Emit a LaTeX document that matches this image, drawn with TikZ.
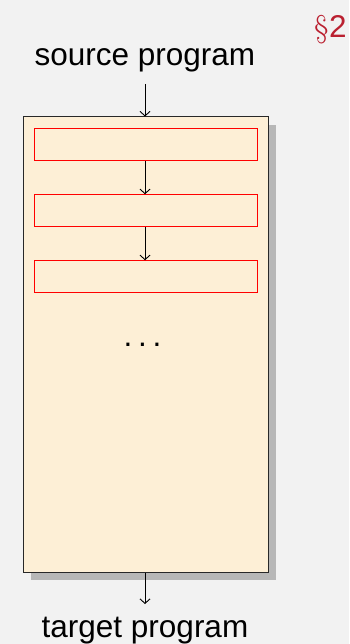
\documentclass[tikz,border=0pt]{standalone}
\usepackage{fontspec}
\newfontfamily\arialfont{Liberation Sans}
\usetikzlibrary{arrows.meta,shadows}
\definecolor{bgcol}{RGB}{242,242,242}
\definecolor{boxfill}{RGB}{253,239,214}
\definecolor{shadowcol}{RGB}{183,183,183}
\definecolor{secred}{RGB}{186,32,48}
\definecolor{framecol}{RGB}{40,40,40}
\tikzset{
  arr/.style={-{Straight Barb[length=4.5pt,width=10pt]}, line width=0.9pt, black},
  lbl/.style={font=\arialfont\fontsize{31.5}{36}\selectfont, anchor=base, inner sep=0pt},
  outerbox/.style={draw=framecol, line width=1pt, fill=boxfill, minimum width=245pt, minimum height=455pt, inner sep=0pt,
    drop shadow={shadow xshift=8pt, shadow yshift=-8pt, fill=shadowcol, opacity=1}},
  phase/.style={draw=red, line width=0.9pt, fill=boxfill, minimum width=223pt, minimum height=32pt, inner sep=0pt},
}
\begin{document}
\begin{tikzpicture}[x=1pt,y=1pt]
\fill[bgcol] (0,0) rectangle (349,-644);
\useasboundingbox (0,0) rectangle (349,-644);
\node[outerbox] (outer) at (145.5,-344.5) {};
\node[phase] (b1) at (145.5,-144.7) {};
\node[phase] (b2) at (145.5,-210.7) {};
\node[phase] (b3) at (145.5,-276.7) {};
\node[lbl] (src) at (145,-66) {source program};
\node[lbl] (tgt) at (145,-637) {target program};
\node[lbl] (dots) at (142.5,-346) {.\kern0.18em.\kern0.18em.};
\node[anchor=base west, inner sep=0pt, text=secred, font=\fontsize{31.5}{36}\selectfont] (sec) at (314,-38) {\S\kern0.5pt{\arialfont 2}};
\coordinate (a0) at (145,-84);
\coordinate (a1) at (145,-604);
\draw[arr] (a0) -- (outer.north -| a0);
\draw[arr] (b1.south -| a0) -- (b2.north -| a0);
\draw[arr] (b2.south -| a0) -- (b3.north -| a0);
\draw[arr] (outer.south -| a1) -- (a1);
\end{tikzpicture}
\end{document}
